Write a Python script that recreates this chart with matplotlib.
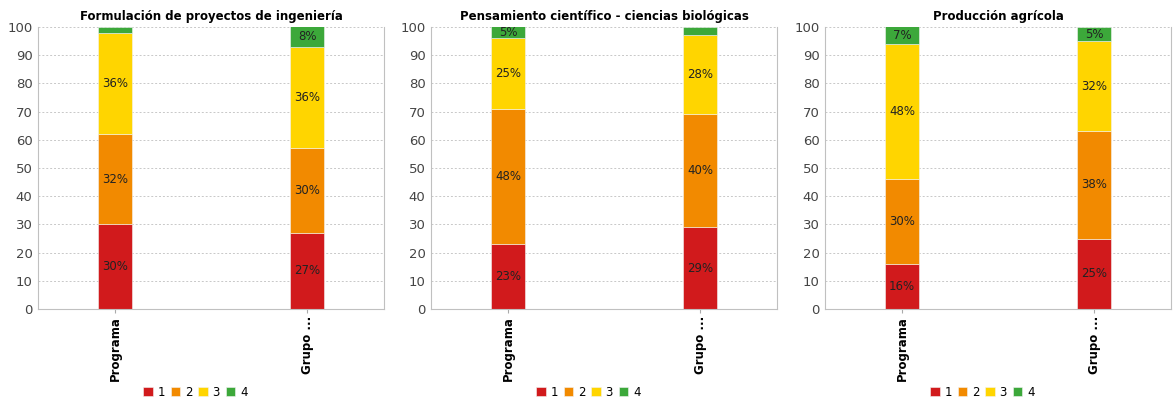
import matplotlib.pyplot as plt
import numpy as np

titles = ["Formulación de proyectos de ingeniería",
          "Pensamiento científico - ciencias biológicas",
          "Producción agrícola"]
categories = ["Programa", "Grupo ..."]
levels = ["1", "2", "3", "4"]
colors = ["#d11a1c", "#f28a00", "#ffd500", "#3ca83a"]

# percent per level, [Programa, Grupo]
values = [
    [[30, 27], [32, 30], [36, 36], [2, 8]],
    [[23, 29], [48, 40], [25, 28], [5, 3]],
    [[16, 25], [30, 38], [48, 32], [7, 5]],
]

fig = plt.figure(figsize=(11.73, 4), dpi=100)
lefts = [38, 431, 825]
W, H = 1173, 400
x = np.arange(len(categories))

for k, (title, vals) in enumerate(zip(titles, values)):
    ax = fig.add_axes([lefts[k] / W, (H - 309) / H, 346 / W, 282 / H])
    bottom = np.zeros(len(categories))
    for lvl, col, v in zip(levels, colors, vals):
        v = np.array(v, dtype=float)
        ax.bar(x, v, 0.18, bottom=bottom, color=col, edgecolor="#f3f3f3",
               linewidth=0.4, label=lvl, zorder=2)
        for xi, b, h in zip(x, bottom, v):
            if h > 3:
                yc = (b + min(b + h, 100)) / 2
                ax.text(xi, yc, f"{int(h)}%", ha="center", va="center",
                        fontsize=8.5, color="#222222", zorder=3)
        bottom += v
    ax.set_xlim(-0.4, 1.4)
    ax.set_ylim(0, 100)
    ax.set_yticks(range(0, 101, 10))
    ax.set_xticks(x)
    ax.set_xticklabels(categories, rotation=90, fontsize=8.5, fontweight="bold")
    ax.tick_params(axis="y", labelsize=9.5, colors="#444444", length=0, pad=4)
    ax.tick_params(axis="x", length=3, color="#aaaaaa", pad=2)
    ax.grid(axis="y", linestyle=(0, (2, 2)), color="#c8c8c8", linewidth=0.7, zorder=0)
    for s in ax.spines.values():
        s.set_color("#c0c0c0")
    ax.spines["top"].set_visible(False)
    ax.set_title(title, fontsize=8.5, fontweight="bold", pad=5)
    ax.legend(loc="upper center", bbox_to_anchor=(0.455, -0.235), ncol=4,
              frameon=False, fontsize=8.5, handlelength=0.8, handleheight=0.8,
              handletextpad=0.4, columnspacing=0.5)

fig.savefig("out.png", dpi=100)
